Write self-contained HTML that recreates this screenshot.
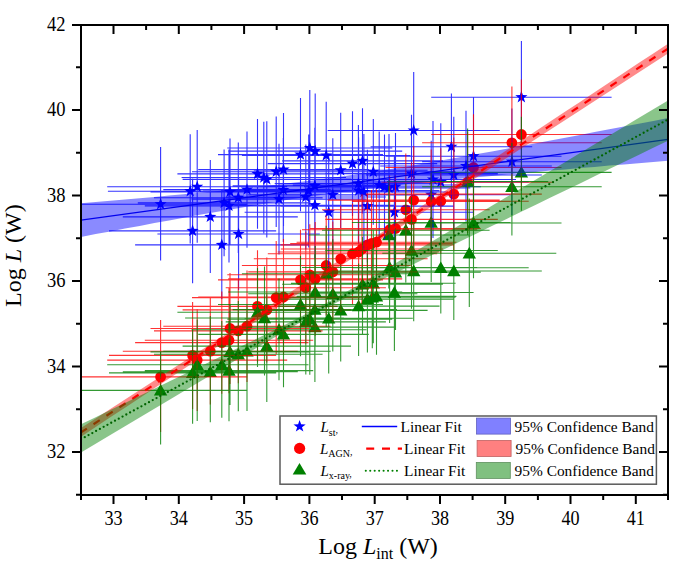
<!DOCTYPE html>
<html><head><meta charset="utf-8"><style>
html,body{margin:0;padding:0;background:#fff;width:685px;height:576px;overflow:hidden;font-family:"Liberation Serif",serif;}
svg{display:block;}
</style></head><body>
<svg width="685" height="576" viewBox="0 0 685 576">
<defs><clipPath id="c"><rect x="81" y="25" width="587" height="470"/></clipPath></defs>
<rect width="685" height="576" fill="#fff"/>
<g clip-path="url(#c)">
<path fill="#0000ff" d="M160.6,197.8L162.1,202.1L166.7,202.2L163,205L164.4,209.4L160.6,206.8L156.8,209.4L158.2,205L154.5,202.2L159.1,202.1ZM190.2,184.8L191.7,189.1L196.3,189.2L192.6,192L194,196.4L190.2,193.8L186.4,196.4L187.8,192L184.1,189.2L188.7,189.1ZM192.6,224.5L194.1,228.8L198.7,228.9L195,231.7L196.4,236.1L192.6,233.5L188.8,236.1L190.2,231.7L186.5,228.9L191.1,228.8ZM197.2,180.4L198.7,184.7L203.3,184.8L199.6,187.6L201,192L197.2,189.4L193.4,192L194.8,187.6L191.1,184.8L195.7,184.7ZM210.3,210.5L211.8,214.8L216.4,214.9L212.7,217.7L214.1,222.1L210.3,219.5L206.5,222.1L207.9,217.7L204.2,214.9L208.8,214.8ZM221.8,238.5L223.3,242.8L227.9,242.9L224.2,245.7L225.6,250.1L221.8,247.5L218,250.1L219.4,245.7L215.7,242.9L220.3,242.8ZM224.1,196.5L225.6,200.8L230.2,200.9L226.5,203.7L227.9,208.1L224.1,205.5L220.3,208.1L221.7,203.7L218,200.9L222.6,200.8ZM229,199.5L230.5,203.8L235.1,203.9L231.4,206.7L232.8,211.1L229,208.5L225.2,211.1L226.6,206.7L222.9,203.9L227.5,203.8ZM230,185.5L231.5,189.8L236.1,189.9L232.4,192.7L233.8,197.1L230,194.5L226.2,197.1L227.6,192.7L223.9,189.9L228.5,189.8ZM238.3,191.2L239.8,195.6L244.4,195.7L240.7,198.5L242.1,202.9L238.3,200.2L234.5,202.9L235.9,198.5L232.2,195.7L236.8,195.6ZM238.6,227.6L240.1,231.9L244.7,232L241,234.8L242.4,239.2L238.6,236.6L234.8,239.2L236.2,234.8L232.5,232L237.1,231.9ZM247,183.2L248.5,187.5L253.1,187.6L249.4,190.4L250.8,194.8L247,192.2L243.2,194.8L244.6,190.4L240.9,187.6L245.5,187.5ZM257.5,167.5L259,171.8L263.6,171.9L259.9,174.7L261.3,179.1L257.5,176.5L253.7,179.1L255.1,174.7L251.4,171.9L256,171.8ZM266.8,173L268.3,177.3L272.9,177.4L269.2,180.2L270.6,184.6L266.8,182L263,184.6L264.4,180.2L260.7,177.4L265.3,177.3ZM276.2,165.2L277.7,169.6L282.3,169.7L278.6,172.5L280,176.9L276.2,174.2L272.4,176.9L273.8,172.5L270.1,169.7L274.7,169.6ZM279,192.7L280.5,197L285.1,197.1L281.4,199.9L282.8,204.3L279,201.7L275.2,204.3L276.6,199.9L272.9,197.1L277.5,197ZM283.5,163.2L285,167.5L289.6,167.6L285.9,170.4L287.3,174.8L283.5,172.2L279.7,174.8L281.1,170.4L277.4,167.6L282,167.5ZM300.5,148.2L302,152.5L306.6,152.6L302.9,155.4L304.3,159.8L300.5,157.2L296.7,159.8L298.1,155.4L294.4,152.6L299,152.5ZM305.8,190.6L307.3,194.9L311.9,195L308.2,197.8L309.6,202.2L305.8,199.6L302,202.2L303.4,197.8L299.7,195L304.3,194.9ZM309.8,141.6L311.3,145.9L315.9,146L312.2,148.8L313.6,153.2L309.8,150.6L306,153.2L307.4,148.8L303.7,146L308.3,145.9ZM315.2,144.7L316.7,149L321.3,149.1L317.6,151.9L319,156.3L315.2,153.7L311.4,156.3L312.8,151.9L309.1,149.1L313.7,149ZM314.8,179.5L316.3,183.8L320.9,183.9L317.2,186.7L318.6,191.1L314.8,188.5L311,191.1L312.4,186.7L308.7,183.9L313.3,183.8ZM314.9,198.8L316.4,203.1L321,203.2L317.3,206L318.7,210.4L314.9,207.8L311.1,210.4L312.5,206L308.8,203.2L313.4,203.1ZM326.2,149.1L327.7,153.4L332.3,153.5L328.6,156.3L330,160.7L326.2,158.1L322.4,160.7L323.8,156.3L320.1,153.5L324.7,153.4ZM328.7,205.8L330.2,210.1L334.8,210.2L331.1,213L332.5,217.4L328.7,214.8L324.9,217.4L326.3,213L322.6,210.2L327.2,210.1ZM332.8,188.5L334.3,192.8L338.9,192.9L335.2,195.7L336.6,200.1L332.8,197.5L329,200.1L330.4,195.7L326.7,192.9L331.3,192.8ZM340.7,163.9L342.2,168.2L346.8,168.3L343.1,171.1L344.5,175.5L340.7,172.9L336.9,175.5L338.3,171.1L334.6,168.3L339.2,168.2ZM352.5,157.2L354,161.5L358.6,161.6L354.9,164.4L356.3,168.8L352.5,166.2L348.7,168.8L350.1,164.4L346.4,161.6L351,161.5ZM358.6,184.2L360.1,188.5L364.7,188.6L361,191.4L362.4,195.8L358.6,193.2L354.8,195.8L356.2,191.4L352.5,188.6L357.1,188.5ZM362.5,154.5L364,158.8L368.6,158.9L364.9,161.7L366.3,166.1L362.5,163.5L358.7,166.1L360.1,161.7L356.4,158.9L361,158.8ZM367.4,199.7L368.9,204L373.5,204.1L369.8,206.9L371.2,211.3L367.4,208.7L363.6,211.3L365,206.9L361.3,204.1L365.9,204ZM373.3,165.4L374.8,169.7L379.4,169.8L375.7,172.6L377.1,177L373.3,174.4L369.5,177L370.9,172.6L367.2,169.8L371.8,169.7ZM384.5,180.4L386,184.7L390.6,184.8L386.9,187.6L388.3,192L384.5,189.4L380.7,192L382.1,187.6L378.4,184.8L383,184.7ZM394.4,205.8L395.9,210.1L400.5,210.2L396.8,213L398.2,217.4L394.4,214.8L390.6,217.4L392,213L388.3,210.2L392.9,210.1ZM395.5,180.2L397,184.6L401.6,184.7L397.9,187.5L399.3,191.9L395.5,189.2L391.7,191.9L393.1,187.5L389.4,184.7L394,184.6ZM411.5,167.2L413,171.5L417.6,171.6L413.9,174.4L415.3,178.8L411.5,176.2L407.7,178.8L409.1,174.4L405.4,171.6L410,171.5ZM413.7,124L415.2,128.4L419.8,128.5L416.1,131.3L417.5,135.7L413.7,133.1L409.9,135.7L411.3,131.3L407.6,128.5L412.2,128.4ZM431.2,188.2L432.7,192.6L437.3,192.7L433.6,195.5L435,199.9L431.2,197.2L427.4,199.9L428.8,195.5L425.1,192.7L429.7,192.6ZM433,173.1L434.5,177.4L439.1,177.5L435.4,180.3L436.8,184.7L433,182.1L429.2,184.7L430.6,180.3L426.9,177.5L431.5,177.4ZM440.8,175.6L442.3,179.9L446.9,180L443.2,182.8L444.6,187.2L440.8,184.6L437,187.2L438.4,182.8L434.7,180L439.3,179.9ZM451.4,140.4L452.9,144.7L457.5,144.8L453.8,147.6L455.2,152L451.4,149.4L447.6,152L449,147.6L445.3,144.8L449.9,144.7ZM453.8,168.6L455.3,172.9L459.9,173L456.2,175.8L457.6,180.2L453.8,177.6L450,180.2L451.4,175.8L447.7,173L452.3,172.9ZM466,159.6L467.5,163.9L472.1,164L468.4,166.8L469.8,171.2L466,168.6L462.2,171.2L463.6,166.8L459.9,164L464.5,163.9ZM473.5,149.8L475,154.1L479.6,154.2L475.9,157L477.3,161.4L473.5,158.8L469.7,161.4L471.1,157L467.4,154.2L472,154.1ZM511.9,155.2L513.4,159.6L518,159.7L514.3,162.5L515.7,166.9L511.9,164.2L508.1,166.9L509.5,162.5L505.8,159.7L510.4,159.6ZM521.4,90.8L522.9,95.1L527.5,95.2L523.8,98L525.2,102.4L521.4,99.8L517.6,102.4L519,98L515.3,95.2L519.9,95.1ZM263.8,171.1L265.3,175.4L269.9,175.5L266.2,178.3L267.6,182.7L263.8,180.1L260,182.7L261.4,178.3L257.7,175.5L262.3,175.4ZM283.3,183.6L284.8,187.9L289.4,188L285.7,190.8L287.1,195.2L283.3,192.6L279.5,195.2L280.9,190.8L277.2,188L281.8,187.9ZM308.7,184.6L310.2,188.9L314.8,189L311.1,191.8L312.5,196.2L308.7,193.6L304.9,196.2L306.3,191.8L302.6,189L307.2,188.9ZM358.4,177.1L359.9,181.4L364.5,181.5L360.8,184.3L362.2,188.7L358.4,186.1L354.6,188.7L356,184.3L352.3,181.5L356.9,181.4ZM363.9,185.6L365.4,189.9L370,190L366.3,192.8L367.7,197.2L363.9,194.6L360.1,197.2L361.5,192.8L357.8,190L362.4,189.9ZM379.2,178.6L380.7,182.9L385.3,183L381.6,185.8L383,190.2L379.2,187.6L375.4,190.2L376.8,185.8L373.1,183L377.7,182.9ZM389,181.6L390.5,185.9L395.1,186L391.4,188.8L392.8,193.2L389,190.6L385.2,193.2L386.6,188.8L382.9,186L387.5,185.9Z"/>
<g fill="#ff0000"><circle cx="160.6" cy="376.9" r="5.4"/><circle cx="192.6" cy="355.4" r="5.4"/><circle cx="197.2" cy="360.1" r="5.4"/><circle cx="210.3" cy="351.2" r="5.4"/><circle cx="221.8" cy="342.6" r="5.4"/><circle cx="229" cy="340.2" r="5.4"/><circle cx="230" cy="328.5" r="5.4"/><circle cx="238.3" cy="330.9" r="5.4"/><circle cx="247" cy="326.2" r="5.4"/><circle cx="257.5" cy="306.4" r="5.4"/><circle cx="266.8" cy="309.9" r="5.4"/><circle cx="276.2" cy="297.6" r="5.4"/><circle cx="283.5" cy="297" r="5.4"/><circle cx="300.5" cy="279.9" r="5.4"/><circle cx="305.8" cy="287.7" r="5.4"/><circle cx="309.8" cy="274.8" r="5.4"/><circle cx="315.2" cy="278.9" r="5.4"/><circle cx="326.2" cy="265.5" r="5.4"/><circle cx="332.8" cy="271.9" r="5.4"/><circle cx="340.7" cy="258.8" r="5.4"/><circle cx="352.5" cy="253.7" r="5.4"/><circle cx="358.6" cy="252" r="5.4"/><circle cx="367.4" cy="244.9" r="5.4"/><circle cx="376.5" cy="242.2" r="5.4"/><circle cx="389.6" cy="229.7" r="5.4"/><circle cx="395.5" cy="228.5" r="5.4"/><circle cx="405.8" cy="209.8" r="5.4"/><circle cx="411.5" cy="219.4" r="5.4"/><circle cx="413.7" cy="200.1" r="5.4"/><circle cx="431.2" cy="201.5" r="5.4"/><circle cx="440.8" cy="201.2" r="5.4"/><circle cx="453.8" cy="194.1" r="5.4"/><circle cx="467.6" cy="182.2" r="5.4"/><circle cx="473.5" cy="167.5" r="5.4"/><circle cx="511.9" cy="142.8" r="5.4"/><circle cx="521.4" cy="134.5" r="5.4"/><circle cx="362" cy="249" r="5.4"/><circle cx="371.5" cy="243.5" r="5.4"/></g>
<path fill="#008000" d="M160.6,384L167.3,395.6L153.9,395.6ZM192.6,366.5L199.3,378.1L185.9,378.1ZM197.2,358.3L203.9,369.9L190.5,369.9ZM210.3,365.4L217,377L203.6,377ZM221.8,358.3L228.5,369.9L215.1,369.9ZM229,364.2L235.7,375.8L222.3,375.8ZM230,345.5L236.7,357.1L223.3,357.1ZM238.3,347.8L245,359.4L231.6,359.4ZM247,344.8L253.7,356.4L240.3,356.4ZM257.5,305.8L264.2,317.4L250.8,317.4ZM264.5,311.6L271.2,323.2L257.8,323.2ZM266.8,339.7L273.5,351.3L260.1,351.3ZM279,323.3L285.7,334.9L272.3,334.9ZM283.5,328L290.2,339.6L276.8,339.6ZM300.5,298.1L307.2,309.7L293.8,309.7ZM305.8,315.5L312.5,327.1L299.1,327.1ZM309.8,312.8L316.5,324.4L303.1,324.4ZM315.2,285.6L321.9,297.2L308.5,297.2ZM314.8,303.2L321.5,314.8L308.1,314.8ZM314.9,320.7L321.6,332.3L308.2,332.3ZM326.2,267.3L332.9,278.9L319.5,278.9ZM328.7,311.9L335.4,323.5L322,323.5ZM332.8,287.4L339.5,299L326.1,299ZM340.7,304L347.4,315.6L334,315.6ZM358.6,299.7L365.3,311.3L351.9,311.3ZM362.5,277.8L369.2,289.4L355.8,289.4ZM367.4,292.7L374.1,304.3L360.7,304.3ZM373.3,276.9L380,288.5L366.6,288.5ZM372.3,290.9L379,302.5L365.6,302.5ZM376.5,290L383.2,301.6L369.8,301.6ZM389.6,261.1L396.3,272.7L382.9,272.7ZM394.4,286.1L401.1,297.7L387.7,297.7ZM395.5,265.8L402.2,277.4L388.8,277.4ZM405.8,223.8L412.5,235.4L399.1,235.4ZM411.5,244.1L418.2,255.7L404.8,255.7ZM413.7,264.6L420.4,276.2L407,276.2ZM431.2,216.1L437.9,227.7L424.5,227.7ZM440.8,261.4L447.5,273L434.1,273ZM453.8,264.6L460.5,276.2L447.1,276.2ZM469.3,246.8L476,258.4L462.6,258.4ZM467.6,175.1L474.3,186.7L460.9,186.7ZM473.5,216.6L480.2,228.2L466.8,228.2ZM511.9,180.4L518.6,192L505.2,192ZM521.4,166L528.1,177.6L514.7,177.6ZM388.8,228.6L395.5,240.2L382.1,240.2Z"/>
<path d="M73.6 204.2H247.6M160.6 147V260.6M107.9 191.2H272.5M190.2 134.3V243.6M109 230.9H276.2M192.6 178.6V283.2M107.2 186.8H287.2M197.2 130V242.8M122.8 216.9H297.8M210.3 159.9V272.9M135.1 244.9H308.5M221.8 190.9V298.9M137.8 202.9H310.4M224.1 149.6V256.2M144.8 205.9H313.2M229 149.4V262.4M150.5 191.9H309.5M230 138.5V245.3M154 197.7H322.6M238.3 142.5V252.9M157.4 234H319.8M238.6 178V290M163.3 189.6H330.7M247 131.5V247.7M177.4 173.9H337.6M257.5 119V228.8M182.6 179.4H351M266.8 121.3V237.5M192 171.7H360.4M276.2 116.5V226.9M191.5 199.1H366.5M279 143.8V254.4M198.2 169.6H368.8M283.5 113.1V226.1M218 154.6H383M300.5 97.9V211.3M225.7 197H385.9M305.8 144.6V249.4M227.3 148H392.3M309.8 89.9V206.1M228.2 151.1H402.2M315.2 93.4V208.8M232.6 185.9H397M314.8 127.7V244.1M234.3 205.2H395.5M314.9 151.6V258.8M241.9 155.5H410.5M326.2 101.7V209.3M244.6 212.2H412.8M328.7 153.5V270.9M248.2 194.9H417.4M332.8 138.2V251.6M253.8 170.3H427.6M340.7 112.7V227.9M267.8 163.6H437.2M352.5 111.2V216M277.7 190.6H439.5M358.6 137.5V243.7M282.1 160.9H442.9M362.5 108.2V213.6M280.5 206.1H454.3M367.4 149.8V262.4M291 171.8H455.6M373.3 118.9V224.7M304 186.8H465M384.5 134.6V239M315.2 212.2H473.6M394.4 156.5V267.9M310.2 186.7H480.8M395.5 132.9V240.5M325.2 173.6H497.8M411.5 114.7V232.5M327.7 130.5H499.7M413.7 71.9V184.1M351.9 194.7H510.5M431.2 140.7V248.7M350 179.5H516M433 120.9V238.1M352.9 182H528.7M440.8 123.3V240.7M370.6 146.8H532.2M451.4 93.4V200.2M365.8 175H541.8M453.8 116.7V233.3M380.2 166H551.8M466 110.7V221.3M385.5 156.2H561.5M473.5 97.4V215M422.1 161.7H601.7M511.9 108.5V214.9M431.2 97.2H611.6M521.4 41V150.2M181.6 177.5H346M263.8 121.7V233.3M203.1 190H363.5M283.3 137.9V242.1M221 191H396.4M308.7 134.5V247.5M274.7 183.5H442.1M358.4 125V242M281 192H446.8M363.9 133.9V250.1M292.8 185H465.6M379.2 131.5V238.5M307.7 188H470.3M389 133.9V242.1" stroke="#0000ff" stroke-opacity="0.8" stroke-width="1.1" fill="none"/>
<path d="M73.6 376.9H247.6M160.6 320V432.1M109 355.4H276.2M192.6 301.9V408.9M107.2 360.1H287.2M197.2 309.1V411.1M122.8 351.2H297.8M210.3 298V404.4M135.1 342.6H308.5M221.8 291.4V393.8M144.8 340.2H313.2M229 287.2V393.2M150.5 328.5H309.5M230 273.1V383.9M154 330.9H322.6M238.3 278.5V383.3M163.3 326.2H330.7M247 270.4V382M177.4 306.4H337.6M257.5 250.3V362.5M182.6 309.9H351M266.8 257.4V362.4M192 297.6H360.4M276.2 240.9V354.3M198.2 297H368.8M283.5 239.1V354.9M218 279.9H383M300.5 229.7V330.1M225.7 287.7H385.9M305.8 231.6V343.8M227.3 274.8H392.3M309.8 224.2V325.4M228.2 278.9H402.2M315.2 222V335.8M241.9 265.5H410.5M326.2 215.5V315.5M248.2 271.9H417.4M332.8 221.5V322.3M253.8 258.8H427.6M340.7 205.7V311.9M267.8 253.7H437.2M352.5 203.2V304.2M277.7 252H439.5M358.6 199.3V304.7M280.5 244.9H454.3M367.4 193.7V296.1M296.6 242.2H456.4M376.5 189.5V294.9M302 229.7H477.2M389.6 175.5V283.9M310.2 228.5H480.8M395.5 175.6V281.4M322 209.8H489.6M405.8 153.6V266M325.2 219.4H497.8M411.5 162.6V276.2M327.7 200.1H499.7M413.7 146V254.2M351.9 201.5H510.5M431.2 149.4V253.6M352.9 201.2H528.7M440.8 148.3V254.1M365.8 194.1H541.8M453.8 137.4V250.8M381.4 182.2H553.8M467.6 131.5V232.9M385.5 167.5H561.5M473.5 114.3V220.7M422.1 142.8H601.7M511.9 86.6V193.8M431.2 134.5H611.6M521.4 79.6V191.1M280.8 249H443.2M362 194.3V303.7M290.2 243.5H452.8M371.5 190.1V296.9" stroke="#ff0000" stroke-opacity="0.8" stroke-width="1.1" fill="none"/>
<path d="M73.6 390.4H247.6M160.6 352V444.5M109 372.9H276.2M192.6 329.9V423.8M107.2 364.7H287.2M197.2 319.6V421M122.8 371.8H297.8M210.3 316.1V422.3M135.1 364.7H308.5M221.8 321.1V417.8M144.8 370.6H313.2M229 320.9V421.2M150.5 351.9H309.5M230 303.9V405M154 354.2H322.6M238.3 301.1V411.2M163.3 351.2H330.7M247 305.2V411M177.4 312.2H337.6M257.5 268.1V367.1M185.1 318H343.9M264.5 266.6V375.6M182.6 346.1H351M266.8 294.4V402M191.5 329.7H366.5M279 278.4V380.3M198.2 334.4H368.8M283.5 280.9V387.2M218 304.5H383M300.5 256V356.2M225.7 321.9H385.9M305.8 278.1V374.4M227.3 319.2H392.3M309.8 270.9V374.7M228.2 292H402.2M315.2 246.1V346.2M232.6 309.6H397M314.8 254.2V361.1M234.3 327.1H395.5M314.9 281.8V381.9M241.9 273.7H410.5M326.2 225.8V327.4M244.6 318.3H412.8M328.7 266.6V373.5M248.2 293.8H417.4M332.8 239.2V351.6M253.8 310.4H427.6M340.7 262.8V361.4M277.7 306.1H439.5M358.6 263.4V356.1M282.1 284.2H442.9M362.5 237.1V334.5M280.5 299.1H454.3M367.4 253.6V352.6M291 283.3H455.6M373.3 229.4V343.2M289.1 297.3H455.5M372.3 248.5V348.2M296.6 296.4H456.4M376.5 250.7V354.7M302 267.5H477.2M389.6 223.4V322.9M315.2 292.5H473.6M394.4 236.8V351.1M310.2 272.2H480.8M395.5 227.9V329.9M322 230.2H489.6M405.8 183.6V282.4M325.2 250.5H497.8M411.5 197.2V308.7M327.7 271H499.7M413.7 224V321.3M351.9 222.5H510.5M431.2 170.8V282.1M352.9 267.8H528.7M440.8 222.7V313.5M365.8 271H541.8M453.8 222.3V320M382.3 253.2H556.3M469.3 198.5V307M387 181.5H548.2M467.6 128.5V234.8M385.5 223H561.5M473.5 175.4V278.3M422.1 186.8H601.7M511.9 142.7V235.4M431.2 172.4H611.6M521.4 116.7V210.8M308.6 235H469M388.8 180.3V288.5" stroke="#008000" stroke-opacity="0.8" stroke-width="1.1" fill="none"/>
<path d="M81,203.3L95.7,202L110.3,200.8L125,199.5L139.7,198.2L154.4,196.9L169.1,195.6L183.7,194.2L198.4,192.8L213.1,191.4L227.8,190L242.4,188.5L257.1,186.9L271.8,185.3L286.4,183.6L301.1,181.8L315.8,180L330.5,178L345.1,176L359.8,173.8L374.5,171.6L389.2,169.3L403.9,166.9L418.5,164.4L433.2,161.9L447.9,159.3L462.6,156.7L477.2,154L491.9,151.4L506.6,148.7L521.2,145.9L535.9,143.2L550.6,140.4L565.3,137.7L580,134.9L594.6,132.1L609.3,129.3L624,126.5L638.6,123.7L653.3,120.9L668,118L668,160.8L653.3,162L638.6,163.2L624,164.4L609.3,165.6L594.6,166.9L580,168.1L565.3,169.4L550.6,170.6L535.9,171.9L521.2,173.2L506.6,174.5L491.9,175.9L477.2,177.2L462.6,178.6L447.9,180L433.2,181.5L418.5,183L403.9,184.6L389.2,186.2L374.5,187.9L359.8,189.7L345.1,191.6L330.5,193.6L315.8,195.7L301.1,197.8L286.4,200.1L271.8,202.5L257.1,204.9L242.4,207.4L227.8,209.9L213.1,212.5L198.4,215.1L183.7,217.8L169.1,220.4L154.4,223.1L139.7,225.9L125,228.6L110.3,231.4L95.7,234.1L81,236.9Z" fill="#0000ff" fill-opacity="0.46"/>
<path d="M81 220.1L668 139.4" stroke="#0000ee" stroke-width="1.3"/>
<path d="M81,428.1L95.7,418.6L110.3,409.1L125,399.6L139.7,390.1L154.4,380.6L169.1,371L183.7,361.5L198.4,352L213.1,342.5L227.8,332.9L242.4,323.4L257.1,313.8L271.8,304.3L286.4,294.7L301.1,285.1L315.8,275.6L330.5,266L345.1,256.4L359.8,246.8L374.5,237.2L389.2,227.5L403.9,217.9L418.5,208.3L433.2,198.6L447.9,189L462.6,179.3L477.2,169.7L491.9,160L506.6,150.3L521.2,140.7L535.9,131L550.6,121.3L565.3,111.6L580,101.9L594.6,92.2L609.3,82.5L624,72.8L638.6,63.1L653.3,53.4L668,43.7L668,53.5L653.3,63L638.6,72.5L624,82L609.3,91.5L594.6,100.9L580,110.4L565.3,119.9L550.6,129.4L535.9,138.9L521.2,148.4L506.6,158L491.9,167.5L477.2,177L462.6,186.5L447.9,196.1L433.2,205.6L418.5,215.2L403.9,224.7L389.2,234.3L374.5,243.8L359.8,253.4L345.1,263L330.5,272.6L315.8,282.2L301.1,291.8L286.4,301.4L271.8,311.1L257.1,320.7L242.4,330.3L227.8,340L213.1,349.6L198.4,359.3L183.7,368.9L169.1,378.6L154.4,388.3L139.7,398L125,407.7L110.3,417.3L95.7,427L81,436.7Z" fill="#ff0000" fill-opacity="0.46"/>
<path d="M81 432.4L668 48.6" stroke="#ff0000" stroke-width="2.2" stroke-dasharray="7.5 7.94" stroke-dashoffset="0.5"/>
<path d="M81,424.3L95.7,417.2L110.3,410.1L125,402.9L139.7,395.8L154.4,388.7L169.1,381.6L183.7,374.4L198.4,367.3L213.1,360.2L227.8,353L242.4,345.8L257.1,338.6L271.8,331.3L286.4,324L301.1,316.5L315.8,308.8L330.5,300.8L345.1,292.6L359.8,284.2L374.5,275.6L389.2,267L403.9,258.3L418.5,249.6L433.2,240.8L447.9,232.1L462.6,223.3L477.2,214.6L491.9,205.8L506.6,197L521.2,188.2L535.9,179.5L550.6,170.7L565.3,161.9L580,153.1L594.6,144.3L609.3,135.5L624,126.7L638.6,118L653.3,109.2L668,100.4L668,140.7L653.3,147.8L638.6,154.9L624,162L609.3,169.1L594.6,176.3L580,183.4L565.3,190.5L550.6,197.6L535.9,204.7L521.2,211.8L506.6,218.9L491.9,226.1L477.2,233.2L462.6,240.3L447.9,247.4L433.2,254.6L418.5,261.8L403.9,268.9L389.2,276.1L374.5,283.4L359.8,290.7L345.1,298.2L330.5,305.8L315.8,313.8L301.1,322L286.4,330.4L271.8,338.9L257.1,347.6L242.4,356.2L227.8,365L213.1,373.7L198.4,382.4L183.7,391.2L169.1,400L154.4,408.7L139.7,417.5L125,426.3L110.3,435L95.7,443.8L81,452.6Z" fill="#008000" fill-opacity="0.46"/>
<path d="M81 439.2L668 119.5" stroke="#006400" stroke-width="2.3" stroke-linecap="round" stroke-dasharray="0 4.3"/>
</g>
<rect x="81" y="25" width="587" height="470" fill="none" stroke="#000" stroke-width="2"/>
<path d="M81 495v5M81 25v5M113.5 495v9M113.5 25v9M146.1 495v5M146.1 25v5M178.8 495v9M178.8 25v9M211.4 495v5M211.4 25v5M244.1 495v9M244.1 25v9M276.7 495v5M276.7 25v5M309.4 495v9M309.4 25v9M342 495v5M342 25v5M374.7 495v9M374.7 25v9M407.3 495v5M407.3 25v5M440 495v9M440 25v9M472.6 495v5M472.6 25v5M505.2 495v9M505.2 25v9M537.9 495v5M537.9 25v5M570.5 495v9M570.5 25v9M603.2 495v5M603.2 25v5M635.8 495v9M635.8 25v9M668 495v5M668 25v5M82 494.7h-6M668 494.7h-5M82 452h-10M668 452h-9M82 409.3h-6M668 409.3h-5M82 366.5h-10M668 366.5h-9M82 323.8h-6M668 323.8h-5M82 281h-10M668 281h-9M82 238.3h-6M668 238.3h-5M82 195.6h-10M668 195.6h-9M82 152.8h-6M668 152.8h-5M82 110.1h-10M668 110.1h-9M82 67.3h-6M668 67.3h-5M82 25h-10M668 25h-9" stroke="#000" stroke-width="2" fill="none"/>
<g font-family="Liberation Serif" font-size="19.5" fill="#000"><text transform="translate(113.5 524.9) scale(0.93 1.065)" text-anchor="middle">33</text><text transform="translate(178.8 524.9) scale(0.93 1.065)" text-anchor="middle">34</text><text transform="translate(244.1 524.9) scale(0.93 1.065)" text-anchor="middle">35</text><text transform="translate(309.4 524.9) scale(0.93 1.065)" text-anchor="middle">36</text><text transform="translate(374.7 524.9) scale(0.93 1.065)" text-anchor="middle">37</text><text transform="translate(440 524.9) scale(0.93 1.065)" text-anchor="middle">38</text><text transform="translate(505.2 524.9) scale(0.93 1.065)" text-anchor="middle">39</text><text transform="translate(570.5 524.9) scale(0.93 1.065)" text-anchor="middle">40</text><text transform="translate(635.8 524.9) scale(0.93 1.065)" text-anchor="middle">41</text><text transform="translate(65.5 458) scale(0.95 1.065)" text-anchor="end">32</text><text transform="translate(65.5 372.5) scale(0.95 1.065)" text-anchor="end">34</text><text transform="translate(65.5 287) scale(0.95 1.065)" text-anchor="end">36</text><text transform="translate(65.5 201.6) scale(0.95 1.065)" text-anchor="end">38</text><text transform="translate(65.5 116.1) scale(0.95 1.065)" text-anchor="end">40</text><text transform="translate(65.5 30.6) scale(0.95 1.065)" text-anchor="end">42</text></g>
<text font-family="Liberation Serif" font-size="24" x="318.3" y="553.6">Log <tspan font-style="italic">L</tspan><tspan font-size="16" dy="5.8">int</tspan><tspan dy="-5.8"> (W)</tspan></text>
<text font-family="Liberation Serif" font-size="24" transform="translate(21 307) rotate(-90)">Log <tspan font-style="italic">L</tspan> (W)</text>
<g fill="#000"><rect x="280" y="416" width="376.4" height="68.2" fill="#fff" stroke="#5a5a5a" stroke-width="1.5"/><path fill="#0000ff" d="M299.6,419.9L301.1,424.3L305.7,424.4L302,427.2L303.4,431.6L299.6,428.9L295.8,431.6L297.2,427.2L293.5,424.4L298.1,424.3Z"/><circle cx="299.6" cy="448.4" r="5.6" fill="#ff0000"/><path fill="#008000" d="M299.5,462.9L306.3,474.6L292.7,474.6Z"/><text font-family="Liberation Serif" font-size="15" x="320.5" y="431.5"><tspan font-style="italic">L</tspan><tspan font-size="10" dy="4">st</tspan><tspan font-size="10" dy="-2.5">,</tspan></text><text font-family="Liberation Serif" font-size="15" x="320" y="453.7"><tspan font-style="italic">L</tspan><tspan font-size="10" dy="3.6">AGN</tspan><tspan font-size="10" dy="-2.5">,</tspan></text><text font-family="Liberation Serif" font-size="15" x="320.5" y="475.6"><tspan font-style="italic">L</tspan><tspan font-size="10" dy="3.6">x-ray</tspan><tspan font-size="10" dy="-2.5">,</tspan></text><path d="M361.8 426.5H397.2" stroke="#0000ff" stroke-width="1.6"/><path d="M366.2 448.6H402" stroke="#ff0000" stroke-width="2.2" stroke-dasharray="8 7.8"/><path d="M365.8 470.8H397.5" stroke="#008000" stroke-width="2.1" stroke-linecap="round" stroke-dasharray="0 4.45"/><text font-family="Liberation Serif" font-size="15.4" x="400.6" y="431.5">Linear Fit</text><text font-family="Liberation Serif" font-size="15.4" x="404.1" y="453.5">Linear Fit</text><text font-family="Liberation Serif" font-size="15.4" x="404.1" y="475.5">Linear Fit</text><rect x="476.5" y="418.1" width="34" height="16" fill="#8080ff" stroke="#6060c0" stroke-width="0.8"/><rect x="477.1" y="440.5" width="34" height="16" fill="#ff8080" stroke="#c06060" stroke-width="0.8"/><rect x="476.3" y="462.4" width="34" height="16" fill="#80c080" stroke="#609060" stroke-width="0.8"/><text font-family="Liberation Serif" font-size="15.4" x="514.6" y="431.5">95% Confidence Band</text><text font-family="Liberation Serif" font-size="15.4" x="515.5" y="453.5">95% Confidence Band</text><text font-family="Liberation Serif" font-size="15.4" x="514.6" y="475.5">95% Confidence Band</text></g>
</svg>
</body></html>
